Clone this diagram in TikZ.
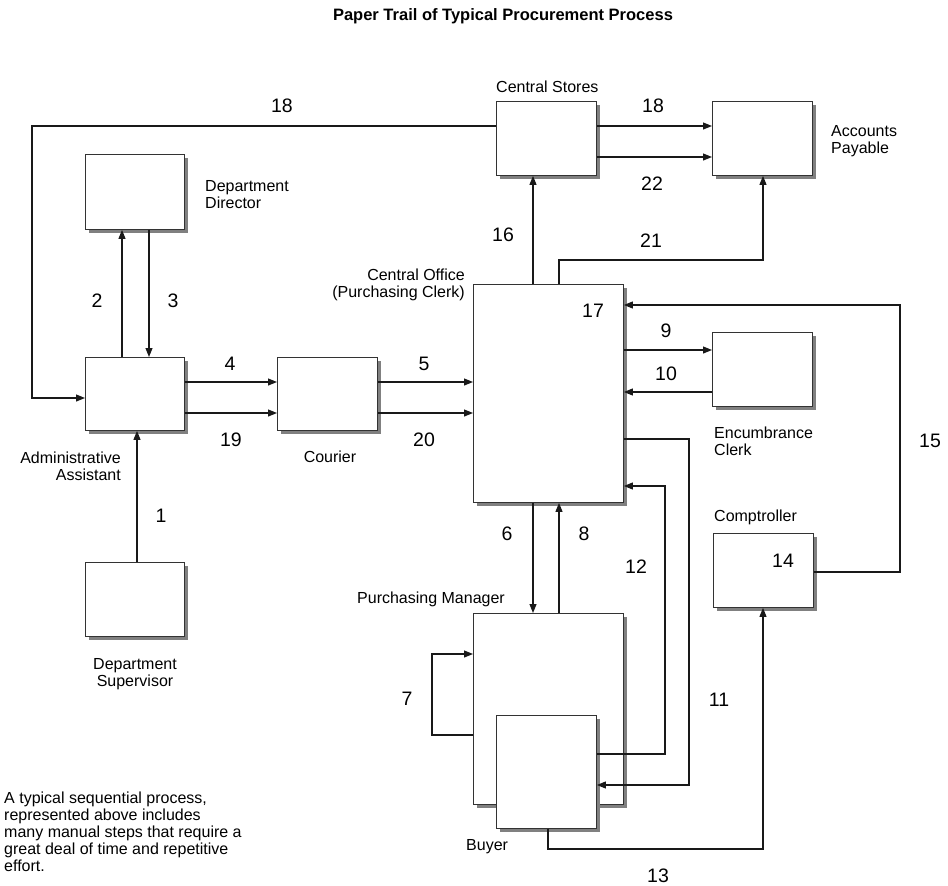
\documentclass[tikz,border=0pt]{standalone}
\usepackage{fontspec}
\setmainfont{Liberation Sans}
\usetikzlibrary{arrows.meta,shadows}
\begin{document}
\begin{tikzpicture}[x=1pt,y=-1pt,
  box/.style={draw=black!80, fill=white, line width=0.9pt, inner sep=0pt,
    drop shadow={shadow xshift=4pt, shadow yshift=-4pt, fill=black!50, opacity=1}},
  arr/.style={draw=black!90, line width=1.1pt, line join=miter,
    -{Triangle[length=9pt,width=7pt]}},
  num/.style={font=\fontsize{19.5}{22}\selectfont, inner sep=0pt},
  lbl/.style={font=\fontsize{16}{17}\selectfont, inner sep=0pt},
  ttl/.style={font=\fontsize{16.5}{19}\selectfont\bfseries, inner sep=0pt}]
\useasboundingbox[fill=white] (0,0) rectangle (948,886);

% title
\node[ttl] (title) at (503,16) {Paper Trail of Typical Procurement Process};

% boxes
\node[box, anchor=north west, minimum width=99pt, minimum height=75pt] (dd) at (85,154) {};
\node[box, anchor=north west, minimum width=99pt, minimum height=73pt] (aa) at (85,357) {};
\node[box, anchor=north west, minimum width=99pt, minimum height=74pt] (ds) at (85,562) {};
\node[box, anchor=north west, minimum width=100pt, minimum height=73pt] (cour) at (277,357) {};
\node[box, anchor=north west, minimum width=150pt, minimum height=218pt] (co) at (473,284) {};
\node[box, anchor=north west, minimum width=100pt, minimum height=74pt] (cs) at (496,101) {};
\node[box, anchor=north west, minimum width=100pt, minimum height=74pt] (ap) at (712,101) {};
\node[box, anchor=north west, minimum width=100pt, minimum height=74pt] (ec) at (712,332) {};
\node[box, anchor=north west, minimum width=100pt, minimum height=74pt] (comp) at (713,533) {};
\node[box, anchor=north west, minimum width=150pt, minimum height=191pt] (pm) at (473,613) {};
\node[box, anchor=north west, minimum width=100pt, minimum height=113pt] (buyer) at (496,715) {};

% box labels
\node[lbl, anchor=west, align=left] (lbldd) at (205,195) {Department\\Director};
\node[lbl, anchor=east, align=right] (lblaa) at (121,466) {Administrative\\Assistant};
\node[lbl] (lblcour) at (330,457) {Courier};
\node[lbl, anchor=east, align=right] (lblco) at (465,285) {Central Office\\(Purchasing Clerk)};
\node[lbl, anchor=west] (lblcs) at (496,87) {Central Stores};
\node[lbl, anchor=west, align=left] (lblap) at (831,141) {Accounts\\Payable};
\node[lbl, anchor=west, align=left] (lblec) at (714,441) {Encumbrance\\Clerk};
\node[lbl, anchor=west] (lblcomp) at (714,517) {Comptroller};
\node[lbl, anchor=west] (lblpm) at (357,599) {Purchasing Manager};
\node[lbl, anchor=west] (lblbuyer) at (466,847) {Buyer};
\node[lbl, align=center] (lblds) at (135,674) {Department\\Supervisor};
\node[lbl, anchor=west, align=left] (note) at (4,832) {A typical sequential process,\\represented above includes\\many manual steps that require a\\great deal of time and repetitive\\effort.};

% routing coordinates
\coordinate (v1) at (137,0);
\coordinate (v2) at (122,0);
\coordinate (v3) at (149,0);
\coordinate (h4) at (0,382);
\coordinate (h19) at (0,413);
\coordinate (v6) at (533,0);
\coordinate (v8) at (559,0);
\coordinate (h9) at (0,350);
\coordinate (h10) at (0,392);
\coordinate (h11) at (0,439);
\coordinate (x11) at (689,0);
\coordinate (h11b) at (0,785);
\coordinate (h12) at (0,754);
\coordinate (x12) at (665,0);
\coordinate (h12b) at (0,486);
\coordinate (v13) at (548,0);
\coordinate (h13) at (0,849);
\coordinate (x13) at (763,0);
\coordinate (h15) at (0,572);
\coordinate (x15) at (900,0);
\coordinate (h15b) at (0,305);
\coordinate (v16) at (533,0);
\coordinate (v21) at (559,0);
\coordinate (h21) at (0,260);
\coordinate (x21) at (763,0);
\coordinate (h18) at (0,126);
\coordinate (h22) at (0,157);
\coordinate (x18) at (32,0);
\coordinate (h18b) at (0,398);
\coordinate (h7a) at (0,735);
\coordinate (x7) at (432,0);
\coordinate (h7b) at (0,654);

% connectors
\draw[arr] (ds.north -| v1) -- (aa.south -| v1);
\draw[arr] (aa.north -| v2) -- (dd.south -| v2);
\draw[arr] (dd.south -| v3) -- (aa.north -| v3);
\draw[arr] (aa.east |- h4) -- (cour.west |- h4);
\draw[arr] (aa.east |- h19) -- (cour.west |- h19);
\draw[arr] (cour.east |- h4) -- (co.west |- h4);
\draw[arr] (cour.east |- h19) -- (co.west |- h19);
\draw[arr] (co.south -| v6) -- (pm.north -| v6);
\draw[arr] (pm.west |- h7a) -- (x7 |- h7a) -- (x7 |- h7b) -- (pm.west |- h7b);
\draw[arr] (pm.north -| v8) -- (co.south -| v8);
\draw[arr] (co.east |- h9) -- (ec.west |- h9);
\draw[arr] (ec.west |- h10) -- (co.east |- h10);
\draw[arr] (co.east |- h11) -- (x11 |- h11) -- (x11 |- h11b) -- (buyer.east |- h11b);
\draw[arr] (buyer.east |- h12) -- (x12 |- h12) -- (x12 |- h12b) -- (co.east |- h12b);
\draw[arr] (buyer.south -| v13) -- (v13 |- h13) -- (x13 |- h13) -- (comp.south -| x13);
\draw[arr] (comp.east |- h15) -- (x15 |- h15) -- (x15 |- h15b) -- (co.east |- h15b);
\draw[arr] (co.north -| v16) -- (cs.south -| v16);
\draw[arr] (co.north -| v21) -- (v21 |- h21) -- (x21 |- h21) -- (ap.south -| x21);
\draw[arr] (cs.east |- h18) -- (ap.west |- h18);
\draw[arr] (cs.east |- h22) -- (ap.west |- h22);
\draw[arr] (cs.west |- h18) -- (x18 |- h18) -- (x18 |- h18b) -- (aa.west |- h18b);

% numbers
\node[num] (n1) at (161,516) {1};
\node[num] (n2) at (97,301) {2};
\node[num] (n3) at (173,301) {3};
\node[num] (n4) at (230,364) {4};
\node[num] (n5) at (424,364) {5};
\node[num] (n6) at (507,534) {6};
\node[num] (n7) at (407,699) {7};
\node[num] (n8) at (584,534) {8};
\node[num] (n9) at (666,331) {9};
\node[num] (n10) at (666,374) {10};
\node[num] (n11) at (719,700) {11};
\node[num] (n12) at (636,567) {12};
\node[num] (n13) at (658,876) {13};
\node[num] (n14) at (783,561) {14};
\node[num] (n15) at (930,441) {15};
\node[num] (n16) at (503,235) {16};
\node[num] (n17) at (593,311) {17};
\node[num] (n18a) at (282,106) {18};
\node[num] (n18b) at (653,106) {18};
\node[num] (n19) at (231,440) {19};
\node[num] (n20) at (424,440) {20};
\node[num] (n21) at (651,241) {21};
\node[num] (n22) at (652,184) {22};
\end{tikzpicture}
\end{document}
